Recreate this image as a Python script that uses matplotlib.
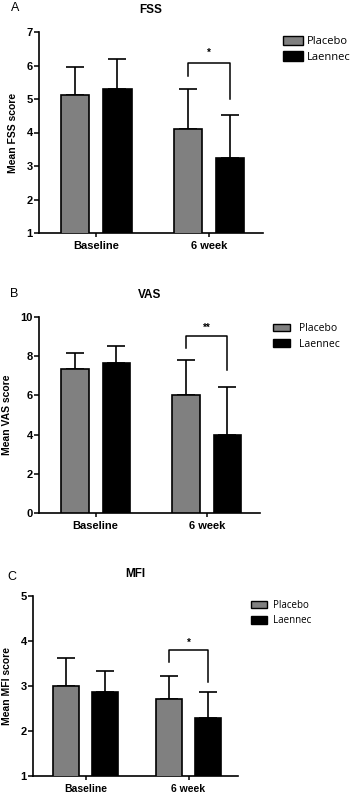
import numpy as np
import matplotlib
matplotlib.use('Agg')
from matplotlib import pyplot as plt
from matplotlib.patches import Patch

groups = ['Baseline', '6 week']
series = ['Placebo', 'Laennec']

# mean values and upper SD for each panel
fss_mean = [[5.13, 4.10], [5.30, 3.25]]
fss_err = [[0.82, 1.20], [0.90, 1.27]]
vas_mean = [[7.33, 6.00], [7.63, 4.00]]
vas_err = [[0.84, 1.82], [0.87, 2.42]]
mfi_mean = [[3.00, 2.71], [2.86, 2.29]]
mfi_err = [[0.62, 0.52], [0.47, 0.57]]

# significance bracket at 6 week: (top, left leg end, right leg end, star y, label)
fss_sig = (6.08, 5.70, 5.00, 6.38, '*')
vas_sig = (9.05, 8.42, 7.30, 9.45, '**')
mfi_sig = (3.80, 3.54, 3.09, 3.97, '*')

panels = [
    ('A', 'FSS', 'Mean FSS score', fss_mean, fss_err, fss_sig, (1, 7), np.arange(1, 8, 1),
     [39/350, 1-233/794, 224/350, 201/794], (283/350, 1-36/794), (15/350, 1-8/794),
     dict(size=8, hl=1.8, hh=0.9, tp=0.36, ls=0.35), 8),
    ('B', 'VAS', 'Mean VAS score', vas_mean, vas_err, vas_sig, (0, 10), np.arange(0, 11, 2),
     [39/350, 1-513/794, 221/350, 196/794], (273/350, 1-323/794), (14/350, 1-294/794),
     dict(size=7.5, hl=1.63, hh=0.7, tp=0.85, ls=0.45), 8),
    ('C', 'MFI', 'Mean MFI score', mfi_mean, mfi_err, mfi_sig, (1, 5), np.arange(1, 6, 1),
     [33/350, 1-776/794, 205/350, 180/794], (251/350, 1-600/794), (12/350, 1-577/794),
     dict(size=7, hl=1.65, hh=0.75, tp=0.6, ls=0.45), 7.5),
]

colors = ['#808080', '#000000']
bold = dict(family='Liberation Sans', weight='bold')

fig = plt.figure(figsize=(3.5, 7.94), dpi=100)
x = np.arange(len(groups))
off = 0.187
w = 0.25

for letter, title, ylab, mean, err, sig, ylim, yt, rect, legpos, letpos, lg, xfs in panels:
    ax = fig.add_axes(rect)
    for i in range(2):
        xs = x + (i * 2 - 1) * off
        ax.bar(xs, mean[i], w, color=colors[i], edgecolor='black', linewidth=1.2, zorder=3)
        ax.errorbar(xs, mean[i], yerr=[np.zeros(2), err[i]], fmt='none', ecolor='black',
                    elinewidth=1.2, capsize=6.5, capthick=1.2, zorder=2)
    top, l_end, r_end, sy, lab = sig
    xl, xr = x[1] - off, x[1] + off
    ax.plot([xl, xl, xr, xr], [l_end, top, top, r_end], color='black', lw=1.1, zorder=4)
    ax.text(x[1], sy, lab, ha='center', va='center', fontsize=7, **bold)

    ax.set_xlim(-0.51, 1.48)
    ax.set_ylim(*ylim)
    ax.set_yticks(yt)
    ax.set_xticks(x)
    ax.set_xticklabels(groups, fontsize=xfs, **bold)
    for t in ax.get_yticklabels():
        t.set_fontsize(8)
        t.set_fontfamily('Liberation Sans')
        t.set_fontweight('bold')
    ax.tick_params(axis='y', direction='out', length=3.5, width=1.1, pad=1)
    ax.tick_params(axis='x', direction='out', length=3, width=1.1, pad=3)
    for s in ['top', 'right']:
        ax.spines[s].set_visible(False)
    for s in ['left', 'bottom']:
        ax.spines[s].set_linewidth(1.2)
    ax.set_ylabel(ylab, fontsize=7.5, labelpad=6, **bold)
    ax.set_title(title, fontsize=8.5, pad=14, **bold)
    fig.text(letpos[0], letpos[1], letter, ha='center', va='center', fontsize=9,
             family='Liberation Sans')

    handles = [Patch(facecolor=colors[i], edgecolor='black', linewidth=1.0) for i in range(2)]
    fig.legend(handles, series, loc='upper left', bbox_to_anchor=legpos, frameon=False,
               prop={'family': 'Open Sans', 'size': lg['size']}, handlelength=lg['hl'],
               handleheight=lg['hh'], handletextpad=lg['tp'], labelspacing=lg['ls'],
               borderaxespad=0, borderpad=0)

fig.savefig('out.png', dpi=100)
